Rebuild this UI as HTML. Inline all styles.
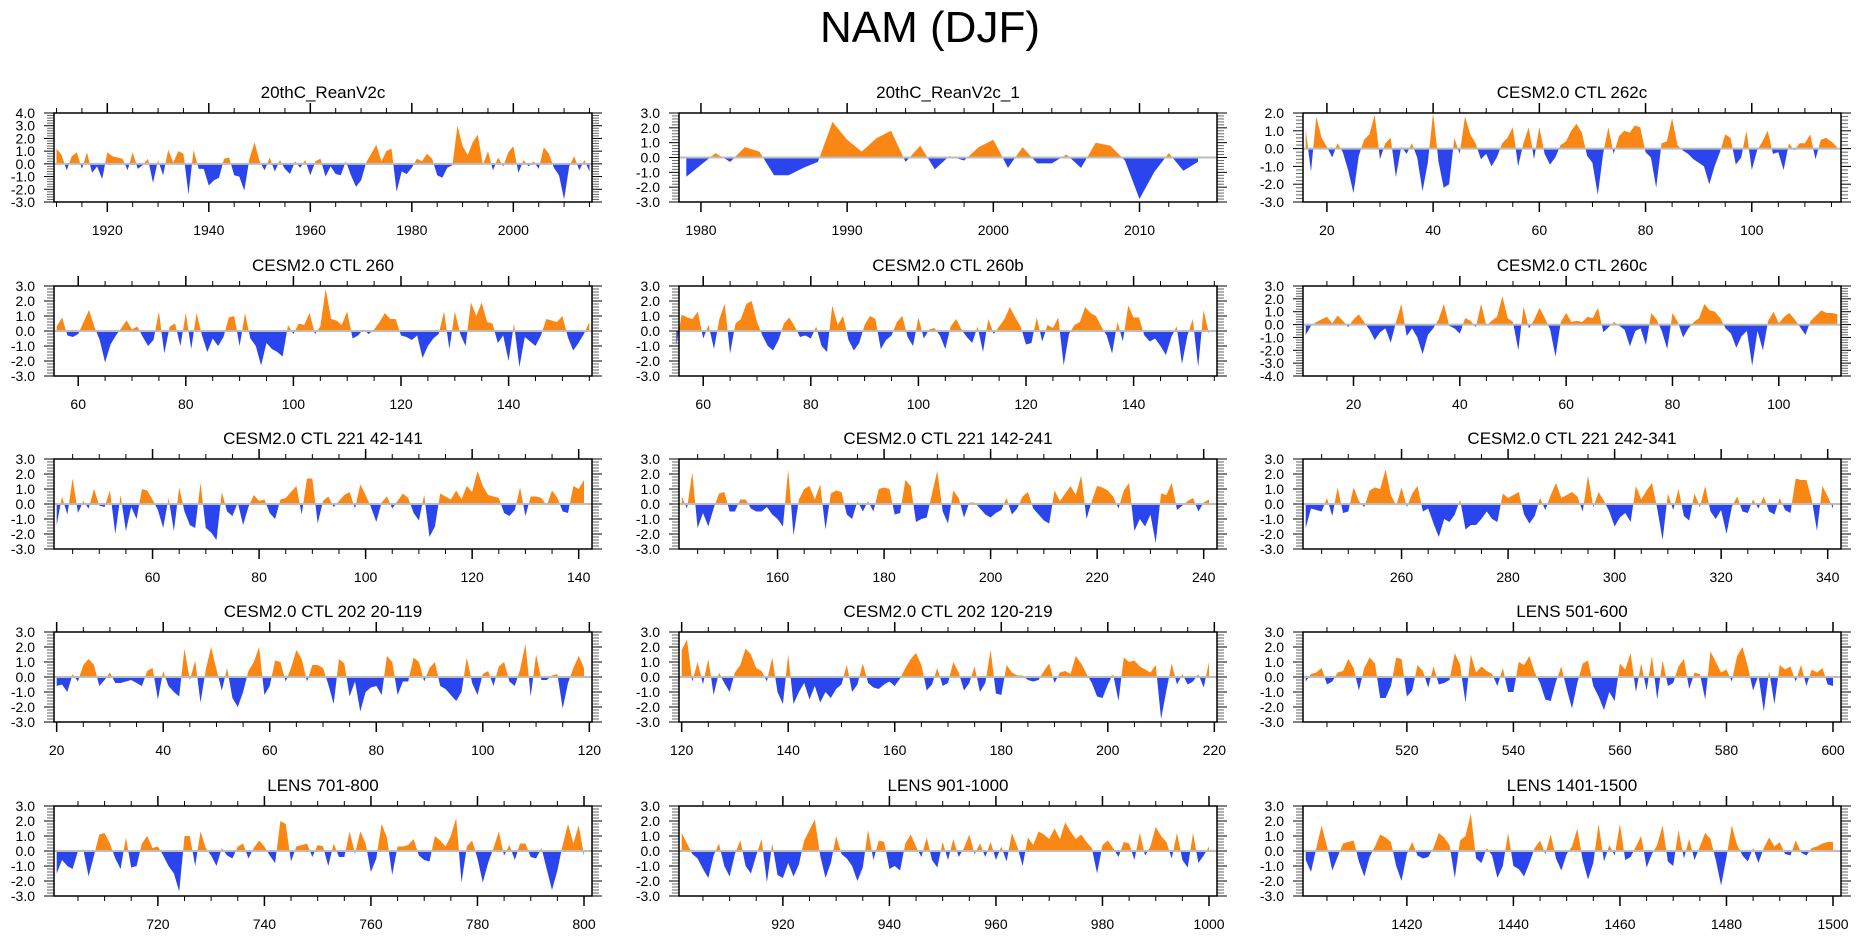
<!DOCTYPE html>
<html><head><meta charset="utf-8">
<style>
html,body{margin:0;padding:0;background:#fff;}
svg{display:block;font-family:"Liberation Sans",Arial,sans-serif;}
</style></head>
<body>
<svg id="chart" width="1861" height="936" viewBox="0 0 1861 936" xmlns="http://www.w3.org/2000/svg">
<rect x="0" y="0" width="1861" height="936" fill="#fff"/>
<text x="930" y="42" font-size="44" text-anchor="middle" fill="#000">NAM (DJF)</text>
</svg>
<script>
const titles = ["20thC_ReanV2c","20thC_ReanV2c_1","CESM2.0 CTL 262c","CESM2.0 CTL 260","CESM2.0 CTL 260b","CESM2.0 CTL 260c","CESM2.0 CTL 221 42-141","CESM2.0 CTL 221 142-241","CESM2.0 CTL 221 242-341","CESM2.0 CTL 202 20-119","CESM2.0 CTL 202 120-219","LENS 501-600","LENS 701-800","LENS 901-1000","LENS 1401-1500"];
const startYears = [1910,1979,16,56,55,11,42,142,242,20,120,501,701,901,1401];
const xMins = [1909.5,1978.5,15.5,55.5,55.5,10.5,41.5,141.5,241.5,19.5,119.5,500.5,700.5,900.5,1400.5];
const xMaxs = [2015.5,2015.3,116.8,155.5,155.5,111.7,142.5,242.5,342.5,120.5,220.5,601.5,801.5,1001.5,1501.5];
const yMins = [-3,-3,-3,-3,-3,-4,-3,-3,-3,-3,-3,-3,-3,-3,-3];
const yMaxs = [4,3,2,3,3,3,3,3,3,3,3,3,3,3,3];
const xMajorSteps = [20,10,20,20,20,20,20,20,20,20,20,20,20,20,20];
const xMinorSteps = [5,2,5,5,5,5,5,5,5,5,5,5,5,5,5];

const valsP1 = [1.2,0.7,-0.5,0.6,0.9,-0.4,0.9,-0.7,-0.2,-1.2, 0.9,0.6,0.5,0.4,-0.5,0.9,-0.4,-0.1,0.4,-1.5, 0.3,-0.9,1.1,0.1,1.0,0.8,-2.4,1.1,-0.4,-0.4, -1.7,-1.3,-1.1,0.4,0.5,-0.9,-1.0,-2.1,0.4,1.7, 0.2,-0.5,0.5,-0.6,0.3,-0.4,-0.8,0.2,-0.3,0.3, -0.9,0.2,0.4,-1.0,-0.2,-0.8,-0.9,0.2,-0.9,-1.8, -1.3,0.1,0.8,1.5,0.2,1.0,1.2,-2.2,-0.6,-0.8, -0.3,0.4,0.2,0.8,0.4,-0.9,-1.1,-0.3,-0.1,3.0, 1.4,0.7,1.7,2.3,-0.1,1.0,-0.5,0.5,-0.2,0.9, 1.4,-0.7,0.3,-0.2,0.2,-0.4,1.3,0.8,-0.3,-0.9, -2.8,-0.2,0.6,-0.5,0.3,-0.6];
const valsP2 = [-1.3,-0.5,0.3,-0.3,0.7,0.4,-1.2,-1.2,-0.7,-0.3,2.4,1.2,0.4,1.3,1.8,-0.3,0.8,-0.8,0.1,-0.2,0.7,1.2,-0.7,0.7,-0.4,-0.4,0.2,-0.7,1.0,0.8,-0.2,-2.8,-1.0,0.3,-0.9,-0.3];
const valsP3 = [1.1,-1.3,1.8,0.6,0.1,-0.5,0.3,-0.2,-1.2,-2.5, -0.4,0.5,0.8,1.9,-0.6,0.3,0.6,-1.6,0.1,-0.3, 0.3,-0.5,-2.4,-0.8,2.0,-0.7,-2.2,-2.0,0.6,-0.3, 1.8,0.8,0.3,-0.6,-0.3,-1.0,-0.5,0.3,0.6,1.2, -1.0,0.3,1.2,-0.6,1.2,-0.3,-0.9,-0.5,0.2,0.4, 1.0,1.4,0.9,-0.4,-0.8,-2.6,-0.3,1.2,-0.3,0.7, 1.0,0.9,1.3,1.2,-0.2,-0.5,-2.2,0.3,0.4,1.7, 0.2,-0.1,-0.3,-0.6,-0.8,-1.0,-2.0,-1.0,-0.2,0.8, 0.6,-0.9,-0.5,1.0,-1.2,-0.1,0.4,1.0,-0.3,-0.2, -1.2,0.3,-0.1,0.3,0.3,0.8,-0.6,0.5,0.6,0.4,0.1];
const valsP4 = [0.3,0.9,-0.3,-0.4,-0.2,0.6,1.4,0.3,-0.6,-2.1, -0.9,-0.3,0.2,0.7,0.1,0.3,-0.4,-1.0,-0.6,1.3, -1.5,0.3,0.5,-1.0,1.2,-1.2,1.2,-0.3,-1.4,-0.5, -1.0,-0.4,0.9,1.0,-1.0,1.2,-0.5,-1.0,-2.3,-0.8, -1.2,-1.4,-1.7,0.4,-0.2,0.5,0.4,1.2,-0.2,0.3, 2.8,0.8,0.7,0.4,1.3,-0.5,-0.3,0.1,-0.2,0.1, 0.6,1.2,0.8,0.8,-0.3,-0.4,-0.6,-0.3,-1.8,-1.0, -0.5,-0.2,1.3,-1.2,1.3,-0.2,-1.0,1.9,1.0,1.9, 0.6,0.5,-0.8,-0.3,-2.0,0.5,-2.4,-0.4,-0.7,-1.0, -0.3,0.8,0.7,0.6,1.0,-0.4,-1.3,-0.8,-0.2,0.6];
const valsP5 = [-1.0,1.1,0.9,0.8,1.3,-0.5,0.4,-1.2,0.8,1.8, -1.5,0.5,0.8,1.8,2.0,0.6,-0.3,-1.0,-1.3,-0.6, 0.5,0.9,0.3,-0.4,-0.3,-0.5,0.3,-1.0,-1.4,1.7, 0.4,1.0,-0.6,-1.3,-0.8,0.4,1.0,0.8,-1.2,-0.6, -0.3,0.6,1.0,-0.4,-1.0,0.9,-0.5,0.1,0.2,-0.3, -1.2,0.3,0.8,0.1,-0.4,-0.8,0.3,-1.4,0.8,-0.2, 0.3,0.8,1.6,0.9,0.3,-0.9,-0.8,0.9,-0.7,0.4, 0.2,0.9,-2.3,-0.2,0.4,0.6,1.6,1.2,1.0,0.3, -0.3,-1.5,0.6,-0.7,1.7,0.9,0.9,-0.3,-0.7,-0.5, -1.0,-1.6,-0.4,0.3,-2.2,-0.3,0.8,-2.4,1.4,-0.2];
const valsP6 = [-0.8,-0.1,0.2,0.4,0.6,0.1,0.7,0.3,-0.2,0.4, 0.8,0.2,-0.4,-1.2,-0.6,-0.3,-1.4,0.2,1.6,-0.9, -0.3,-1.0,-2.3,-0.8,-0.3,0.4,1.6,-0.1,-0.3,-0.7, 0.5,0.3,-0.2,1.6,-0.1,0.3,0.6,2.2,0.5,0.2, -2.0,1.4,-0.3,0.4,1.3,0.5,-0.4,-2.5,0.2,0.9, 0.2,0.3,0.2,0.6,0.5,1.3,-0.6,-0.2,0.2,-0.1, -0.4,-1.7,-0.5,-0.3,-1.6,0.9,0.4,-0.5,-1.9,0.9, 0.2,-1.0,-0.3,0.2,0.5,1.6,1.1,1.0,0.5,-0.3, -0.7,-1.8,-0.9,-0.5,-3.2,-0.5,-2.0,0.3,1.0,0.1, 0.6,0.9,0.4,-0.2,-0.8,0.3,0.7,1.1,0.9,0.9,0.8];
const valsP7 = [-1.4,0.5,-0.7,1.7,-0.6,0.2,-0.3,1.0,-0.1,-0.2, 0.9,-2.0,0.6,-1.8,-0.2,-1.0,1.0,0.9,0.3,-0.4, -1.6,0.4,-1.8,1.1,-0.5,-1.4,-1.6,1.4,-1.6,-1.9, -2.4,0.8,-0.5,-0.8,0.1,-1.4,-0.2,0.6,0.2,0.3, -0.6,-1.0,0.3,0.4,0.8,1.2,-0.7,1.7,1.7,-1.3, 0.2,0.5,-0.2,0.2,0.6,0.8,-0.3,1.3,0.6,-0.2, -1.2,0.1,0.5,-0.3,0.2,0.7,0.4,-0.6,-1.1,0.6, -2.2,-1.5,0.7,0.5,0.3,0.9,0.3,1.2,0.8,2.2, 1.2,0.6,0.5,0.4,-0.6,-0.8,-0.4,1.1,-0.8,0.5, 0.5,0.4,-0.1,0.9,0.4,-0.5,-0.6,1.2,1.0,1.6];
const valsP8 = [0.5,-0.3,2.1,-1.6,-0.6,-1.5,-0.3,0.7,0.8,-0.5, -0.5,0.3,0.3,-0.3,-0.5,-0.5,-0.2,-0.7,-1.0,-1.5, 2.3,-2.1,0.3,1.0,1.2,0.3,1.3,-1.7,0.7,0.9, 0.8,-0.7,-1.0,0.2,-0.5,0.2,-0.5,1.0,1.1,1.0, -0.7,-0.6,1.6,1.2,-1.2,-1.0,-0.9,0.7,2.2,-0.5, -1.3,0.9,0.4,-0.9,0.1,0.1,-0.3,-0.7,-0.9,-0.6, -0.4,0.4,-0.7,-0.3,0.5,0.8,-0.3,-0.7,-1.1,-1.3, 0.9,0.2,0.7,1.2,0.6,1.9,-1.0,0.2,1.2,1.1, 0.9,0.5,-0.3,0.9,1.4,-1.8,-1.0,-1.5,-0.7,-2.6, 0.7,0.6,1.4,-0.4,-0.1,0.2,0.4,-0.5,0.1,0.3];
const valsP9 = [-1.6,-0.3,-0.4,-0.5,0.4,-0.8,1.1,-0.6,-0.5,1.1, 0.2,-0.2,0.9,1.1,1.0,2.3,0.6,-0.1,1.1,-0.2, 0.7,1.2,-0.5,-0.3,-1.3,-2.2,-1.0,-1.2,-0.7,0.3, -1.7,-1.4,-1.4,-1.0,-0.5,-1.0,-1.2,0.7,0.4,0.6, 0.8,-0.7,-1.3,-0.8,0.4,-0.4,0.6,1.4,0.4,0.6, 0.8,0.5,-0.5,1.9,-0.2,0.8,0.2,-0.5,-1.5,-0.9, -0.6,-1.2,1.2,0.3,0.9,1.4,-0.3,-2.4,0.7,-0.4, 1.0,-0.8,-1.1,0.7,-0.2,1.2,-0.5,-1.0,-0.4,-2.0, -0.2,0.5,-0.5,-0.6,0.3,-0.3,0.5,-0.5,-0.7,0.4, -0.4,-0.6,1.7,1.6,1.6,0.3,-1.8,1.2,0.5,-0.3];
const valsP10 = [-0.6,-0.5,-1.0,0.2,-0.3,0.8,1.2,0.8,-0.6,-0.2, 0.3,-0.4,-0.4,-0.3,-0.2,-0.4,-0.6,0.4,0.6,-1.5, 0.4,-0.6,-1.0,-1.3,1.9,-0.2,1.1,-1.7,0.5,2.0, 0.5,-0.9,0.6,-1.4,-2.0,-1.0,0.4,1.0,2.0,-1.2, -0.6,1.1,1.0,-0.3,0.6,1.8,1.2,-0.3,0.8,0.8, 0.6,-0.5,-1.8,1.2,0.9,-1.3,-0.3,-2.3,-1.0,-0.7, -0.6,-1.2,1.4,1.0,-1.2,-0.3,-0.3,1.3,1.0,-0.3, 0.6,1.0,-0.6,-0.8,-1.2,-1.6,-1.0,1.3,-0.4,-1.2, 0.2,0.4,-0.6,0.7,1.0,-0.3,-0.6,0.5,2.2,-1.3, 1.5,-0.2,-0.2,0.1,0.2,-2.1,-0.4,0.6,1.4,0.6];
const valsP11 = [1.8,2.5,-0.3,1.0,-0.5,1.2,-1.2,0.3,-0.4,-1.0, 0.3,0.8,1.9,1.5,0.6,0.4,-0.3,1.3,-1.0,-1.8, 1.5,-1.8,-1.0,-0.4,-1.5,-0.6,-1.7,-1.0,-1.4,-0.8, -0.5,0.8,-1.0,-0.5,0.9,-0.4,-0.7,-0.8,-0.5,-0.3, -0.6,-0.1,0.6,1.2,1.6,0.8,-0.9,-0.5,0.6,-0.6, -0.4,1.0,0.3,-0.9,-0.4,0.7,-1.0,-0.4,1.8,-1.1, -1.2,0.8,0.3,0.1,0.1,-0.2,-0.3,-0.2,0.4,0.9, -0.4,0.3,0.4,0.2,1.4,0.9,0.2,-0.4,-1.3,-1.4, -0.5,0.2,-1.6,1.3,1.0,1.1,0.7,0.5,0.3,0.8, -2.8,-0.9,0.9,-0.5,0.2,-0.5,-0.3,0.2,-0.7,1.0];
const valsP12 = [-0.3,0.2,0.3,0.6,-0.5,-0.3,0.3,0.4,1.2,0.6, -0.9,0.6,1.3,0.9,-1.4,-1.4,-0.6,1.3,1.2,-1.3, -0.9,0.8,0.4,-0.7,0.7,-0.5,-0.4,-0.2,1.6,0.8, -1.7,1.5,0.3,0.7,0.4,0.2,-0.6,0.6,-1.0,-1.0, 1.0,0.8,1.4,0.3,-0.4,-1.5,-1.6,-0.3,0.7,-0.8, -2.1,-0.4,0.9,1.1,-0.6,-1.3,-2.2,-1.0,-1.6,0.9, 0.5,1.6,-1.0,0.9,-0.9,1.4,-1.5,1.1,-0.6,-0.4, 0.7,1.2,-0.8,0.3,0.2,-1.5,1.7,1.0,0.3,0.5, -0.3,1.4,2.0,0.7,-0.9,0.1,-2.3,0.4,-1.8,0.8, 0.5,0.7,-0.3,0.8,-0.6,0.5,0.3,0.6,-0.5,-0.6];
const valsP13 = [-1.5,-0.6,-1.0,-1.2,0.0,0.1,-1.7,-0.3,1.1,1.2, 0.5,-0.5,-1.2,0.9,-1.1,-1.0,0.5,1.0,0.2,0.3, -0.3,-1.0,-1.5,-2.7,1.0,1.0,-1.0,1.3,0.2,-0.3, -1.0,0.2,-0.3,-0.5,0.3,0.5,-0.5,0.2,0.7,0.3, -0.3,-0.8,2.0,1.8,-0.7,0.3,0.4,0.5,-0.4,0.4, 0.3,-1.0,0.5,-0.4,-0.4,1.3,-0.2,1.3,0.5,-1.4, -0.5,1.8,0.9,-1.6,0.3,0.3,0.4,0.8,-0.3,-0.6, -0.7,1.0,0.7,0.3,1.0,2.2,-2.1,0.3,0.7,-0.5, -2.1,-0.8,0.2,1.3,-0.3,0.4,-0.6,0.5,0.5,-0.4, -0.5,0.2,-1.2,-2.6,-1.3,0.4,1.8,0.5,1.7,-0.3];
const valsP14 = [1.2,0.5,-0.2,-0.5,-1.2,-1.8,-0.3,0.5,-1.0,-1.7, -0.2,0.7,-1.0,-1.5,-0.3,0.8,-2.1,0.5,-1.6,-1.8, -0.8,-1.7,-0.9,0.7,1.4,2.1,-0.3,-1.8,-0.8,1.0, -0.2,-0.5,-1.0,-2.0,-1.1,1.4,-0.6,0.7,0.6,-1.2, -1.0,-1.3,0.5,1.1,0.3,-0.4,0.9,-0.6,-1.1,0.6, -0.6,0.8,-0.4,0.2,1.1,-0.2,0.5,-0.4,0.6,-0.6, 0.3,-0.7,1.2,0.3,-1.0,0.9,0.4,1.3,1.1,0.8, 1.5,0.8,1.9,1.3,0.8,1.1,0.6,0.2,-1.5,0.4, 0.7,0.2,-0.4,0.6,0.5,-0.6,1.2,-0.3,0.3,1.6, 1.0,0.6,-0.5,1.2,-0.6,-1.1,1.2,-0.8,-0.3,0.3];
const valsP15 = [-0.6,-1.4,0.2,1.7,0.3,-1.3,-0.4,0.5,0.6,0.7, -0.7,-1.7,-0.4,0.3,1.1,0.9,0.6,-1.0,-2.0,-0.2, 0.6,-0.3,-0.5,-0.4,0.2,1.2,0.9,0.4,-1.8,0.7, 1.0,2.5,-0.5,-0.8,0.2,-0.3,-1.8,-1.0,1.2,-1.0, -1.2,-1.7,-0.8,0.2,0.7,-0.2,1.1,-0.5,-1.3,-0.2, 0.3,1.5,-0.6,-1.9,-0.8,1.8,-0.7,0.4,-0.3,1.8, -0.6,-0.4,0.3,1.0,-1.1,-0.2,0.4,1.7,-0.7,-1.0, 1.4,-0.5,0.8,-0.6,0.3,1.2,0.8,-0.6,-2.3,-0.4, 1.7,0.4,-0.3,-0.7,0.2,-0.8,0.2,0.9,0.3,0.6, -0.2,-0.3,0.7,-0.1,-0.3,0.2,0.3,0.5,0.6,0.6];
const allVals = [valsP1,valsP2,valsP3,valsP4,valsP5,valsP6,valsP7,valsP8,valsP9,valsP10,valsP11,valsP12,valsP13,valsP14,valsP15];

const NS = "http://www.w3.org/2000/svg";
const svg = document.getElementById('chart');
const colLeft = [54, 679, 1303];
const rowTop = [113, 286, 459, 632, 806];
const PW = 538, PH = 90;
const ORANGE = "#fa8613", BLUE = "#2b45ee";

function mk(tag, attrs, parent) {
  const e = document.createElementNS(NS, tag);
  for (const k in attrs) e.setAttribute(k, attrs[k]);
  (parent || svg).appendChild(e);
  return e;
}
function fmt(v) { return v.toFixed(1); }

for (let p = 0; p < 15; p++) {
  const L = colLeft[p % 3], T = rowTop[Math.floor(p / 3)];
  const H = p < 3 ? 89 : PH;
  const xmin = xMins[p], xmax = xMaxs[p], ymin = yMins[p], ymax = yMaxs[p];
  const xs = v => L + (v - xmin) / (xmax - xmin) * PW;
  const ys = v => T + (ymax - v) / (ymax - ymin) * H;
  const g = mk('g', {});
  
  

  const tt = mk('text', {x: L + PW / 2, y: T - 15, 'font-size': 17, 'text-anchor': 'middle', fill: '#000'}, g);
  tt.textContent = titles[p];
  
  

  // fills
  const vals = allVals[p], s = startYears[p];
  const posPts = [], negPts = [];
  const x0 = xs(s), xn = xs(s + vals.length - 1);
  posPts.push([x0, ys(0)]); negPts.push([x0, ys(0)]);
  for (let i = 0; i < vals.length; i++) {
    const v = vals[i], x = s + i;
    if (i > 0) {
      const pv = vals[i - 1];
      if ((pv > 0 && v < 0) || (pv < 0 && v > 0)) {
        const xc = x - 1 + pv / (pv - v);
        posPts.push([xs(xc), ys(0)]); negPts.push([xs(xc), ys(0)]);
      }
    }
    posPts.push([xs(x), ys(Math.max(v, 0))]);
    negPts.push([xs(x), ys(Math.min(v, 0))]);
  }
  posPts.push([xn, ys(0)]); negPts.push([xn, ys(0)]);
  const pf = mk('polygon', {points: posPts.map(q => q[0].toFixed(1) + ',' + q[1].toFixed(1)).join(' '), fill: ORANGE}, g);
  
  
  const nf = mk('polygon', {points: negPts.map(q => q[0].toFixed(1) + ',' + q[1].toFixed(1)).join(' '), fill: BLUE}, g);
  
  

  const zl = mk('line', {x1: L, x2: L + PW, y1: ys(0), y2: ys(0), stroke: '#bcbcbc', 'stroke-width': 2}, g);
  
  

  // x ticks
  const mi = xMinorSteps[p], ma = xMajorSteps[p];
  for (let t = Math.ceil(xmin / mi) * mi; t <= xmax; t += mi) {
    const X = xs(t), major = (t % ma === 0);
    const len = major ? 10 : 5;
    mk('line', {x1: X, x2: X, y1: T + H, y2: T + H + len, stroke: '#000', 'stroke-width': major ? 1.5 : 1}, g);
    mk('line', {x1: X, x2: X, y1: T, y2: T - len, stroke: '#000', 'stroke-width': major ? 1.5 : 1}, g);
    if (major) {
      const lb = mk('text', {x: X, y: T + H + 33, 'font-size': 14, 'text-anchor': 'middle', fill: '#000'}, g);
      lb.textContent = String(t);
      
      
    }
  }
  // y ticks
  for (let k = Math.round(ymin * 5); k <= Math.round(ymax * 5); k++) {
    const v = k / 5, Y = ys(v), major = (k % 5 === 0);
    const len = major ? 10 : 7;
    mk('line', {x1: L, x2: L - len, y1: Y, y2: Y, stroke: major ? '#000' : '#666', 'stroke-width': 1}, g);
    mk('line', {x1: L + PW, x2: L + PW + len, y1: Y, y2: Y, stroke: major ? '#000' : '#666', 'stroke-width': 1}, g);
    if (major) {
      const lb = mk('text', {x: L - 19, y: Y + 5, 'font-size': 14, 'text-anchor': 'end', fill: '#000'}, g);
      lb.textContent = fmt(v);
      
      
    }
  }
  const fr = mk('rect', {x: L, y: T, width: PW, height: H, fill: 'none', stroke: '#000', 'stroke-width': 1.5}, g);
  
  
}
</script>
</body></html>
